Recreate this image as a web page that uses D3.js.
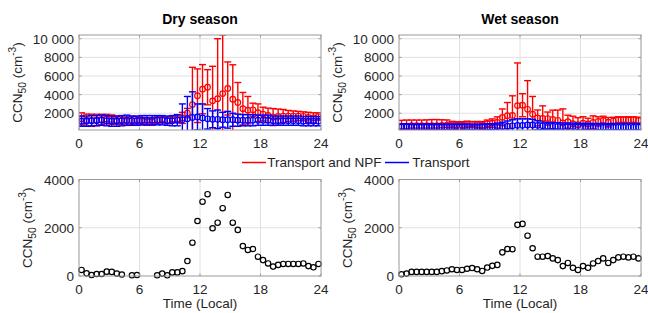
<!DOCTYPE html>
<html><head><meta charset="utf-8">
<script src="https://cdn.jsdelivr.net/npm/d3@7"></script>
<style>body{margin:0;background:#fff} text{font-family:"Liberation Sans",Arial,sans-serif}</style>
</head><body><svg id="c" width="648" height="313"></svg>
<script>
const times = [0.25,0.75,1.25,1.75,2.25,2.75,3.25,3.75,4.25,4.75,5.25,5.75,6.25,6.75,7.25,7.75,8.25,8.75,9.25,9.75,
  10.25,10.75,11.25,11.75,12.25,12.75,13.25,13.75,14.25,14.75,15.25,15.75,16.25,16.75,17.25,17.75,18.25,18.75,19.25,19.75,
  20.25,20.75,21.25,21.75,22.25,22.75,23.25,23.75];

// Dry season, "Transport and NPF" (red): mean and error
const dryNPFMean = [1400,1260,1240,1280,1330,1380,1320,1250,1260,1150, 1230,1240,1150,1100,1100,1280,1350,1230,1350,1400,
  1500,2020,2930,3880,4580,4790,3330,3560,4110,4660, 3510,3160,2490,2330,2370,2050,1910,1770,1590,1660,
  1700,1700,1700,1700,1670,1560,1510,1650];
const dryNPFErr = [650,650,650,600,550,500,500,450,450,450, 450,400,400,400,400,400,350,350,350,400,
  600,500,4000,2880,2640,1890,3710,6440,6290,2850, 3690,2140,1740,1470,710,950,740,780,910,790,
  700,600,550,500,480,540,540,400];
// Dry season, "Transport" (blue)
const dryTrMean = [1150,1150,1200,1200,1250,1200,1150,1150,1200,1250, 1200,1200,1250,1250,1250,1250,1250,1200,1200,1250,
  1300,1400,1550,1600,1500,1400,1350,1350,1300,1300, 1300,1250,1250,1250,1250,1250,1250,1250,1200,1200,
  1200,1200,1200,1200,1150,1150,1150,1150];
const dryTrErr = [550,550,550,550,550,550,550,550,550,550, 500,500,500,500,500,500,500,500,550,600,
  1700,2400,2750,1400,1500,1100,900,1000,800,900, 700,650,600,600,600,550,550,550,500,500,
  500,500,500,500,500,500,500,500];

// Wet season
const wetNPFMean = [590,620,670,670,670,670,670,670,700,730, 780,750,750,800,810,760,710,870,940,1010,
  1560,1740,1760,2820,2860,2420,1900,1500,1450,1430, 1330,1240,970,1090,880,770,930,860,1020,1120,
  1230,1040,1160,1270,1300,1270,1300,1230];
const wetNPFErr = [650,650,600,600,600,620,650,650,600,550, 350,350,350,350,300,350,400,400,450,600,
  900,1410,2110,4580,1240,3080,1900,850,1340,700, 1000,1100,1500,700,800,750,700,600,700,500,
  450,500,400,350,300,350,300,350];
const wetTrMean = [520,520,500,500,500,500,500,500,500,500, 500,500,500,500,480,480,500,520,520,550,
  580,620,650,700,700,750,750,700,650,600, 600,580,560,550,540,520,520,520,500,500,
  500,500,500,500,500,500,500,500];
const wetTrErr = [350,350,350,350,350,350,350,350,350,350, 350,350,350,350,350,350,350,350,350,400,
  450,550,650,700,700,650,600,500,400,400, 400,400,400,400,400,400,400,400,400,400,
  400,400,400,400,400,400,400,400];

// Bottom panels: NPF contribution
const dryDiff = [250,110,40,80,80,180,170,100,60,null, 30,40,null,null,null,30,100,30,150,150,
  200,620,1380,2280,3080,3390,1980,2210,2810,3360, 2210,1910,1240,1080,1120,800,660,520,390,460,
  500,500,500,500,520,410,360,500];
const wetDiff = [70,100,170,170,170,170,170,170,200,230, 280,250,250,300,330,280,210,350,420,460,
  980,1120,1110,2120,2160,1670,1150,800,800,830, 730,660,410,540,340,250,410,340,520,620,
  730,540,660,770,800,770,800,730];

const xTicks = [0,6,12,18,24];
const topTicks = [2000,4000,6000,8000,10000];
const topTickLabels = ["2000","4000","6000","8000","10 000"];
const botTicks = [0,2000,4000];
const botTickLabels = ["0","2000","4000"];
const titles = ["Dry season","Wet season"];
const legendLabels = ["Transport and NPF","Transport"];
const colors = ["#ff0000","#0000ff"];

const svg = d3.select("#c");
const FS = 13.5, tickCol = "#262626", boxCol = "#9a9a9a", gridCol = "#e0e0e0";
const cols = [{x0:79,x1:321},{x0:399,x1:641}];
const topY = {y0:35,y1:130}, botY = {y0:179.5,y1:276};

function ylabel(g, cx, cy){
  const t = g.append("text").attr("transform",`translate(${cx},${cy}) rotate(-90)`)
    .attr("text-anchor","middle").attr("font-size",FS).attr("fill",tickCol);
  t.append("tspan").text("CCN");
  t.append("tspan").attr("font-size",FS*0.76).attr("dy",4).text("50");
  t.append("tspan").attr("dy",-4).text(" (cm");
  t.append("tspan").attr("font-size",FS*0.76).attr("dy",-6).text("-3");
  t.append("tspan").attr("dy",6).text(")");
}

function frame(g, x, y, yTicks, id){
  const [xa,xb] = x.range(), [ya,yb] = y.range();
  g.selectAll(null).data(xTicks.slice(1,-1)).join("line")
    .attr("x1",d=>x(d)).attr("x2",d=>x(d)).attr("y1",yb).attr("y2",ya)
    .attr("stroke",gridCol).attr("stroke-width",1);
  g.selectAll(null).data(yTicks.filter(d=>y(d)>yb+1 && y(d)<ya-1)).join("line")
    .attr("x1",xa).attr("x2",xb).attr("y1",d=>y(d)).attr("y2",d=>y(d))
    .attr("stroke",gridCol).attr("stroke-width",1);
  g.append("clipPath").attr("id",id).append("rect")
    .attr("x",xa).attr("y",yb).attr("width",xb-xa).attr("height",ya-yb);
}

function axesOver(g, x, y, yTicks, yLabels){
  const [xa,xb] = x.range(), [ya,yb] = y.range();
  g.append("rect").attr("x",xa).attr("y",yb).attr("width",xb-xa).attr("height",ya-yb)
    .attr("fill","none").attr("stroke",boxCol).attr("stroke-width",1);
  xTicks.forEach(d=>{
    g.append("line").attr("x1",x(d)).attr("x2",x(d)).attr("y1",ya).attr("y2",ya-2.5).attr("stroke",boxCol);
    g.append("line").attr("x1",x(d)).attr("x2",x(d)).attr("y1",yb).attr("y2",yb+2.5).attr("stroke",boxCol);
  });
  yTicks.forEach(d=>{
    g.append("line").attr("x1",xa).attr("x2",xa+2.5).attr("y1",y(d)).attr("y2",y(d)).attr("stroke",boxCol);
    g.append("line").attr("x1",xb).attr("x2",xb-2.5).attr("y1",y(d)).attr("y2",y(d)).attr("stroke",boxCol);
  });
  g.selectAll(null).data(xTicks).join("text")
    .attr("x",d=>x(d)).attr("y",ya+18).attr("text-anchor","middle")
    .attr("font-size",FS).attr("fill",tickCol).text(d=>d);
  g.selectAll(null).data(yTicks).join("text")
    .attr("x",xa-5).attr("y",d=>y(d)+5).attr("text-anchor","end")
    .attr("font-size",FS).attr("fill",tickCol).text((d,i)=>yLabels[i]);
}

const topData = [
  [{m:dryNPFMean,e:dryNPFErr},{m:dryTrMean,e:dryTrErr}],
  [{m:wetNPFMean,e:wetNPFErr},{m:wetTrMean,e:wetTrErr}]
];
const botData = [dryDiff, wetDiff];

cols.forEach((c,ci)=>{
  const x = d3.scaleLinear().domain([0,24]).range([c.x0,c.x1]);
  const yT = d3.scaleLinear().domain([200,10400]).range([topY.y1,topY.y0]);
  const gT = svg.append("g");
  frame(gT, x, yT, topTicks, "clipT"+ci);
  const gd = gT.append("g").attr("clip-path",`url(#clipT${ci})`);
  topData[ci].forEach((s,si)=>{
    const gs = gd.append("g").attr("stroke",colors[si]).attr("fill","none");
    times.forEach((t,i)=>{
      const m = s.m[i], e = s.e[i];
      const xp = x(t), yl = yT(m-e), yh = yT(m+e);
      gs.append("line").attr("x1",xp).attr("x2",xp).attr("y1",yl).attr("y2",yh).attr("stroke-width",1.4);
      gs.append("line").attr("x1",xp-3.5).attr("x2",xp+3.5).attr("y1",yl).attr("y2",yl).attr("stroke-width",1.4);
      gs.append("line").attr("x1",xp-3.5).attr("x2",xp+3.5).attr("y1",yh).attr("y2",yh).attr("stroke-width",1.4);
      gs.append("circle").attr("cx",xp).attr("cy",yT(m)).attr("r",2.8).attr("stroke-width",1.2);
    });
  });
  axesOver(gT, x, yT, topTicks, topTickLabels);
  ylabel(svg, c.x0-57, (topY.y0+topY.y1)/2);
  svg.append("text").attr("x",(c.x0+c.x1)/2).attr("y",24).attr("text-anchor","middle")
    .attr("font-size",14).attr("font-weight","bold").attr("fill","#000").text(titles[ci]);

  const yB = d3.scaleLinear().domain([0,4000]).range([botY.y1,botY.y0]);
  const gB = svg.append("g");
  frame(gB, x, yB, botTicks, "clipB"+ci);
  gB.append("g").selectAll(null).data(times.map((t,i)=>({t,v:botData[ci][i]})).filter(d=>d.v!==null))
    .join("circle").attr("cx",d=>x(d.t)).attr("cy",d=>yB(d.v)).attr("r",2.7)
    .attr("fill","none").attr("stroke","#000").attr("stroke-width",1.2);
  axesOver(gB, x, yB, botTicks, botTickLabels);
  ylabel(svg, c.x0-47, (botY.y0+botY.y1)/2);
  svg.append("text").attr("x",(c.x0+c.x1)/2).attr("y",308).attr("text-anchor","middle")
    .attr("font-size",FS).attr("fill",tickCol).text("Time (Local)");
});

const leg = [{x:242,tx:267.3},{x:385,tx:412.3}];
leg.forEach((l,i)=>{
  svg.append("line").attr("x1",l.x).attr("x2",l.x+24).attr("y1",162.5).attr("y2",162.5)
    .attr("stroke",colors[i]).attr("stroke-width",1.5);
  svg.append("text").attr("x",l.tx).attr("y",167.3).attr("font-size",FS).attr("fill",tickCol).text(legendLabels[i]);
});
</script></body></html>
